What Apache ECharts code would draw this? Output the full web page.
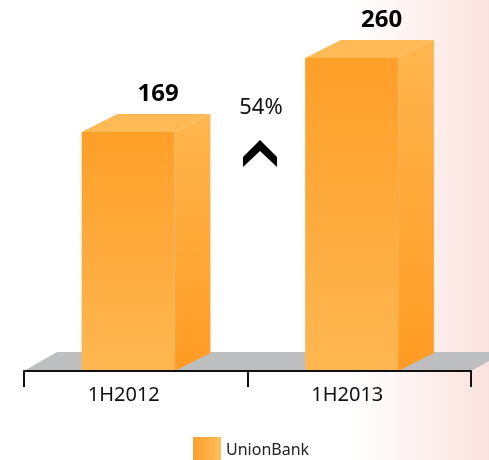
<!DOCTYPE html>
<html>
<head>
<meta charset="utf-8">
<script src="https://cdn.jsdelivr.net/npm/echarts@6/dist/echarts.min.js"></script>
<style>
  html, body { margin: 0; padding: 0; }
  #main { width: 489px; height: 460px; }
</style>
</head>
<body>
<div id="main"></div>
<script>
// data
var categories = ['1H2012', '1H2013'];
var unionBank = [169, 260];
var growthText = '54%';

// hidden value axis range (bars drawn from the lowest value up)
var yMin = -125;
var yMax = 330;

var font = 'Noto Sans';

function renderBar(params, api) {
    var i = api.value(0);
    var v = api.value(1);
    var top = api.coord([i, v]);
    var base = api.coord([i, yMin]);
    var band = api.size([1, 0])[0];
    var w = band * 0.416;      // front face width
    var dx = band * 0.16;      // depth to the right
    var dy = 18;               // depth upwards
    var x0 = top[0] - band * 0.242;
    var x1 = x0 + w;
    var y0 = top[1];
    var y1 = base[1];
    return {
        type: 'group',
        children: [
            {   // side
                type: 'polygon',
                shape: { points: [[x1, y0], [x1 + dx, y0 - dy], [x1 + dx, y1 - dy], [x1, y1]] },
                style: {
                    fill: new echarts.graphic.LinearGradient(0, 0, 0, 1, [
                        { offset: 0, color: '#FFB64E' },
                        { offset: 1, color: '#FF9B22' }
                    ])
                }
            },
            {   // top
                type: 'polygon',
                shape: { points: [[x0, y0], [x0 + dx, y0 - dy], [x1 + dx, y0 - dy], [x1, y0]] },
                style: { fill: '#FFB955' }
            },
            {   // front
                type: 'rect',
                shape: { x: x0, y: y0, width: w, height: y1 - y0 },
                style: {
                    fill: new echarts.graphic.LinearGradient(0, 0, 0, 1, [
                        { offset: 0, color: '#FE9F28' },
                        { offset: 1, color: '#FEB751' }
                    ])
                }
            },
            {   // value
                type: 'text',
                x: x0 + w / 2 + 30,
                y: y0 - 38,
                style: {
                    text: String(v),
                    fill: '#000',
                    font: 'bold 24px "' + font + '"',
                    align: 'center',
                    verticalAlign: 'middle'
                }
            }
        ]
    };
}

var option = {
    animation: false,
    backgroundColor: new echarts.graphic.LinearGradient(0, 0, 1, 0, [
        { offset: 0, color: '#ffffff' },
        { offset: 0.72, color: '#ffffff' },
        { offset: 1, color: '#FBE2DE' }
    ]),
    textStyle: { fontFamily: font },
    grid: { left: 24, right: 18, top: 1, bottom: 89 },
    legend: {
        data: [{ name: 'UnionBank', icon: 'rect' }],
        left: 188,
        top: 432,
        itemWidth: 28,
        itemHeight: 26,
        itemGap: 6,
        textStyle: { fontSize: 16, color: '#222', fontFamily: font }
    },
    xAxis: {
        type: 'category',
        data: categories,
        z: 5,
        axisLine: { onZero: false, lineStyle: { color: '#111', width: 2 } },
        axisTick: { show: true, length: 16, lineStyle: { color: '#111', width: 2 } },
        axisLabel: {
            fontSize: 20,
            color: '#111',
            margin: 14,
            padding: [0, 24, 0, 0]
        }
    },
    yAxis: {
        type: 'value',
        min: yMin,
        max: yMax,
        show: false,
        splitLine: { show: false }
    },
    graphic: [
        {   // floor
            type: 'polygon',
            z: 0,
            shape: { points: [[24, 371], [57, 352], [489, 352], [489, 361], [471, 371]] },
            style: { fill: '#BDBEC0' }
        },
        {
            type: 'text',
            x: 261,
            y: 108,
            style: {
                text: growthText,
                fill: '#111',
                font: '22px "' + font + '"',
                align: 'center',
                verticalAlign: 'middle'
            }
        },
        {   // up chevron
            type: 'polygon',
            shape: { points: [[260, 140], [277, 157], [277, 167], [260, 151], [243, 167], [243, 157]] },
            style: { fill: '#000' }
        }
    ],
    series: [{
        name: 'UnionBank',
        type: 'custom',
        renderItem: renderBar,
        itemStyle: {
            color: new echarts.graphic.LinearGradient(0, 0, 1, 0, [
                { offset: 0, color: '#FE9F28' },
                { offset: 1, color: '#FFBE5C' }
            ])
        },
        encode: { x: 0, y: 1 },
        data: unionBank.map(function (v, i) { return [i, v]; }),
        z: 2
    }]
};

var myChart = echarts.init(document.getElementById('main'));
myChart.setOption(option);
</script>
</body>
</html>
